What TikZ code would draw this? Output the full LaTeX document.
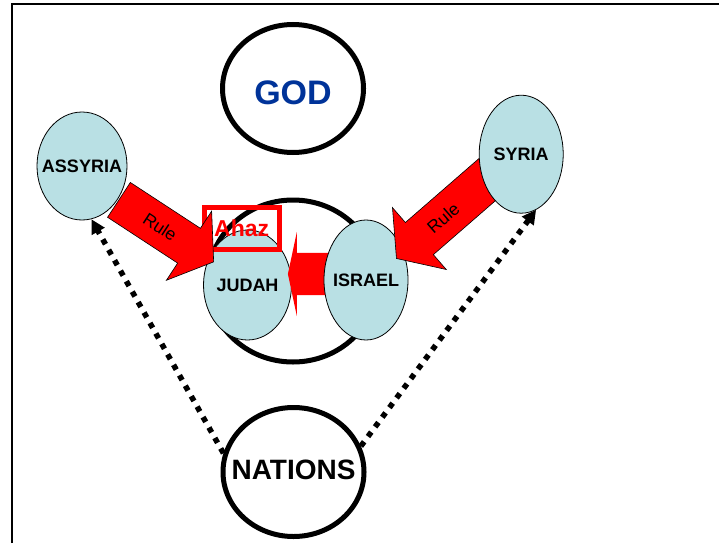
\documentclass[tikz,border=0pt]{standalone}
\usepackage{fontspec}
\setmainfont{Liberation Sans}
\usetikzlibrary{shapes.geometric,shapes.arrows,arrows.meta}
\definecolor{landblue}{RGB}{185,224,228}
\definecolor{godblue}{RGB}{0,51,153}
\tikzset{
  land/.style={draw, ellipse, fill=landblue, line width=0.8pt, inner xsep=-10pt, inner ysep=0pt,
    font=\fontsize{18}{20}\selectfont\bfseries},
  bigring/.style={draw, ellipse, line width=5pt, inner xsep=-20pt, inner ysep=0pt},
  rulearrow/.style={single arrow, draw=black, fill=red, text=black, line width=0.6pt, anchor=tail,
    inner xsep=0pt, text height=12.6pt, text depth=0pt, font=\fontsize{17.5}{20}\selectfont},
  dots/.style={line width=5.5pt, dash pattern=on 5.5pt off 6.5pt,
    -{Triangle[length=14pt,width=14pt]}}
}
\begin{document}
\begin{tikzpicture}[x=1pt, y=-1pt]
  \useasboundingbox (0,0) rectangle (719,543);
  % frame
  \coordinate (framebl) at (12,543);
  \coordinate (frametr) at (719,4);
  \draw[line width=2pt] (framebl) |- (frametr);
  % God on top
  \node[bigring, minimum width=141pt, minimum height=128pt, text=godblue,
    text height=31.5pt, text depth=0pt, font=\fontsize{34}{40}\selectfont\bfseries] (god) at (293,88.5) {GOD};
  % Judah with its ring
  \node[bigring, minimum width=170pt, minimum height=162pt] (ring) at (293,281) {};
  \node[land, minimum width=88pt, minimum height=110pt] (judah) at (247.5,285) {JUDAH};
  \node[single arrow, fill=red, shape border rotate=180, anchor=tip, minimum height=57pt,
    inner xsep=0pt, inner ysep=21pt, text height=0pt, text depth=0pt,
    single arrow head extend=21pt, single arrow tip angle=156] (push) at (287.7,274) {};
  \node[land, minimum width=84pt, minimum height=120pt] (israel) at (366,280) {ISRAEL};
  \node[draw=red, line width=5pt, minimum width=75pt, minimum height=41.7pt, inner sep=0pt,
    text=red, font=\fontsize{23}{26}\selectfont\bfseries] (ahaz) at (241.7,228.3) {Ahaz};
  % the two rulers
  \node[rulearrow, rotate=-33.2, minimum height=113.2pt, inner ysep=14.2pt,
    single arrow head extend=20.5pt, single arrow tip angle=109] (assyriarule) at (118.7,199.7) {Rule};
  \node[rulearrow, shape border rotate=180, rotate=41, minimum height=128pt, inner ysep=14.7pt,
    single arrow head extend=19.7pt, single arrow tip angle=107] (syriarule) at (493.3,174.3) {Rule\hspace*{20pt}};
  \node[land, minimum width=90pt, minimum height=108pt] (assyria) at (82,166) {ASSYRIA};
  \node[land, minimum width=84pt, minimum height=118pt] (syria) at (521.2,154.2) {SYRIA};
  % the nations below
  \node[bigring, minimum width=141pt, minimum height=129pt, text depth=4pt,
    font=\fontsize{28}{32}\selectfont\bfseries] (nations) at (293.5,472) {NATIONS};
  \draw[dots] (nations.165) -- (assyria.280);
  \draw[dots] (nations.21) -- (syria.285);
\end{tikzpicture}
\end{document}
